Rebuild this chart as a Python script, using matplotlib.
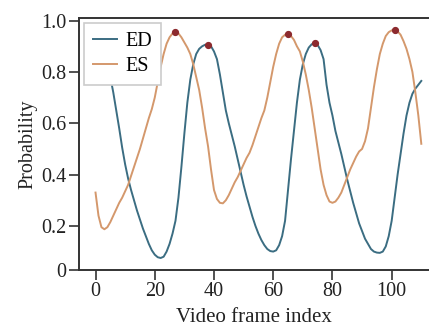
import numpy as np
import matplotlib
matplotlib.use('Agg')
import matplotlib.pyplot as plt

frames = list(range(111))

ed = [0.93, 0.92, 0.90, 0.87, 0.83, 0.78, 0.72, 0.65, 0.58, 0.505,
      0.44, 0.385, 0.34, 0.30, 0.26, 0.225, 0.19, 0.16, 0.13, 0.105,
      0.088, 0.078, 0.075, 0.08, 0.10, 0.13, 0.17, 0.22, 0.31, 0.43,
      0.56, 0.68, 0.77, 0.83, 0.87, 0.89, 0.90, 0.906, 0.906, 0.90,
      0.88, 0.85, 0.79, 0.72, 0.65, 0.60, 0.555, 0.51, 0.46, 0.41,
      0.36, 0.315, 0.275, 0.235, 0.20, 0.17, 0.145, 0.125, 0.11, 0.102,
      0.10, 0.105, 0.125, 0.16, 0.22, 0.34, 0.46, 0.57, 0.68, 0.77,
      0.83, 0.87, 0.895, 0.908, 0.912, 0.905, 0.885, 0.85, 0.75, 0.68,
      0.63, 0.57, 0.525, 0.48, 0.43, 0.38, 0.335, 0.29, 0.25, 0.21,
      0.18, 0.15, 0.13, 0.11, 0.10, 0.096, 0.095, 0.10, 0.12, 0.16,
      0.22, 0.31, 0.40, 0.48, 0.56, 0.63, 0.68, 0.715, 0.735, 0.75,
      0.765]

es = [0.33, 0.24, 0.195, 0.187, 0.195, 0.215, 0.24, 0.265, 0.29, 0.31,
      0.335, 0.36, 0.395, 0.43, 0.465, 0.50, 0.54, 0.58, 0.62, 0.655,
      0.70, 0.76, 0.82, 0.87, 0.91, 0.935, 0.95, 0.955, 0.95, 0.935,
      0.915, 0.895, 0.87, 0.83, 0.78, 0.73, 0.66, 0.58, 0.51, 0.42,
      0.34, 0.305, 0.29, 0.288, 0.30, 0.32, 0.345, 0.37, 0.39, 0.415,
      0.44, 0.465, 0.485, 0.515, 0.55, 0.585, 0.62, 0.65, 0.70, 0.76,
      0.82, 0.87, 0.91, 0.935, 0.945, 0.948, 0.94, 0.925, 0.90, 0.88,
      0.84, 0.79, 0.73, 0.66, 0.58, 0.50, 0.42, 0.36, 0.32, 0.295,
      0.29, 0.295, 0.31, 0.33, 0.36, 0.39, 0.42, 0.445, 0.47, 0.49,
      0.50, 0.53, 0.58, 0.66, 0.74, 0.81, 0.87, 0.91, 0.94, 0.955,
      0.962, 0.963, 0.958, 0.945, 0.92, 0.89, 0.85, 0.80, 0.72, 0.63,
      0.52]

es_peaks = [27, 65, 101]
ed_peaks = [38, 74]

plt.rcParams['font.family'] = ['Liberation Serif', 'DejaVu Serif']

fig = plt.figure(figsize=(4.29, 3.26), dpi=100)
ax = fig.add_axes([0.184, 0.172, 0.816, 0.773])

ax.plot(frames, ed, color='#3b6d82', lw=1.4, label='ED')
ax.plot(frames, es, color='#d4986c', lw=1.4, label='ES')
ax.plot(es_peaks, [es[i] for i in es_peaks], 'o', color='#8c2a2e', ms=4.2, zorder=5)
ax.plot(ed_peaks, [ed[i] for i in ed_peaks], 'o', color='#8c2a2e', ms=4.2, zorder=5)

ybot = 0.0285
ax.set_xlim(-5.6, 112.6)
ax.set_ylim(ybot, 1.0105)
ax.set_xticks([0, 20, 40, 60, 80, 100])
ax.set_yticks([ybot, 0.2, 0.4, 0.6, 0.8, 1.0])
ax.set_yticklabels(['0', '0.2', '0.4', '0.6', '0.8', '1.0'])

ax.spines['right'].set_visible(False)
for s in ['left', 'bottom', 'top']:
    ax.spines[s].set_color('#333333')
    ax.spines[s].set_linewidth(1.4)
ax.tick_params(length=7, width=1.2, color='#333333', labelsize=14.5,
               labelcolor='#222222', pad=2)

ax.set_xlabel('Video frame index', fontsize=15, color='#222222', labelpad=5)
ax.set_ylabel('Probability', fontsize=14.5, color='#222222', labelpad=3)

leg = ax.legend(loc='upper left', fontsize=14.5, fancybox=False,
                handlelength=1.2, handletextpad=0.4, borderpad=0.45,
                labelspacing=0.3, borderaxespad=0.25, framealpha=1)
leg.get_frame().set_edgecolor('#cccccc')
leg.get_frame().set_linewidth(1.2)

fig.savefig('out.png', dpi=100)
